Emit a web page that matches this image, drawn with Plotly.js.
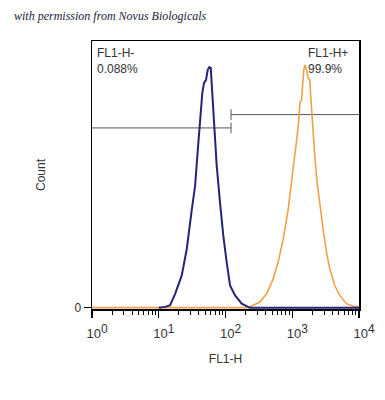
<!DOCTYPE html>
<html>
<head>
<meta charset="utf-8">
<script src="https://cdn.plot.ly/plotly-3.0.1.min.js"></script>
<style>
  html, body { margin: 0; padding: 0; background: #fff; }
  #chart { width: 385px; height: 400px; }
</style>
</head>
<body>
<div id="chart"></div>
<script>
// Negative control (blue) histogram: FL1-H intensity vs count
const blueX = [10, 12.5, 14.8, 17.6, 22.1, 26.3, 31.3, 35.0, 39.2, 41.6, 45.0, 47.7, 51.1, 54.2, 57.3, 60.1, 62.2, 65.8, 69.7, 73.9, 82.7, 92.7, 104, 117, 139, 175, 207, 232, 10000];
const blueY = [0, 0.3, 0.9, 5.2, 12.1, 22.0, 36.9, 45.6, 61.8, 69.4, 80.6, 84.3, 85.4, 89.2, 90.2, 89.9, 82.9, 71.8, 61.9, 53.1, 39.6, 27.0, 17.2, 8.3, 4.6, 1.5, 0.6, 0, 0];

// Stained sample (orange) histogram
const orangeX = [1, 217, 260, 328, 413, 518, 615, 731, 869, 977, 1094, 1183, 1268, 1300, 1377, 1425, 1490, 1543, 1636, 1729, 1833, 1878, 1943, 2053, 2177, 2357, 2587, 2897, 3258, 3648, 4335, 5143, 6482, 8130, 10000];
const orangeY = [0, 0, 0.9, 2.1, 5.2, 10.8, 17.1, 25.7, 36.9, 46.9, 55.6, 64.3, 71.8, 76.8, 78.0, 84.2, 89.2, 91.0, 89.2, 86.1, 85.4, 80.5, 74.3, 65.6, 56.8, 46.9, 38.2, 29.5, 20.8, 14.6, 8.3, 4.6, 1.5, 0.6, 0.2];

// Gates
const gateNames = ['FL1-H-', 'FL1-H+'];
const gateFrom = [1, 121];
const gateTo = [121, 10000];
const gateLevel = [67.4, 72.4];
const gatePercent = ['0.088%', '99.9%'];

// Axis ticks
const xTickVals = [1, 10, 100, 1000, 10000];
const xTickExp = ['0', '1', '2', '3', '4'];
const yTickVals = [0];
const yTickText = ['0'];

const FONT = 'Liberation Sans, Arial, sans-serif';
const TXT = '#333333';

const xTickText = xTickExp.map(e => '10<sup><span style="font-size:12px">' + e + '</span></sup>');

function gateTrace(i) {
  const tickEnd = i === 0 ? gateTo[i] : gateFrom[i];
  return {
    type: 'scatter', mode: 'lines',
    x: [gateFrom[i], gateTo[i], null, tickEnd, tickEnd],
    y: [gateLevel[i], gateLevel[i], null, gateLevel[i] - 2, gateLevel[i] + 2],
    line: { color: '#555555', width: 1 },
    hoverinfo: 'skip', showlegend: false
  };
}

const traces = [
  gateTrace(0), gateTrace(1),
  { type: 'scatter', mode: 'lines', x: orangeX, y: orangeY,
    line: { color: '#F2A148', width: 1.6 }, showlegend: false },
  { type: 'scatter', mode: 'lines', x: blueX, y: blueY,
    line: { color: '#24247A', width: 2 }, showlegend: false }
];

const layout = {
  width: 385, height: 400,
  margin: { l: 92, r: 26, t: 41, b: 91 },
  paper_bgcolor: '#ffffff', plot_bgcolor: '#ffffff',
  showlegend: false,
  font: { family: FONT, size: 12, color: TXT },
  xaxis: {
    type: 'log', range: [0, 4],
    tickmode: 'array', tickvals: xTickVals, ticktext: xTickText,
    ticks: 'outside', ticklen: 7, tickwidth: 1.2, tickcolor: '#000',
    ticklabelstandoff: 5, ticklabelshift: 5,
    minor: { dtick: 'D1', ticks: 'outside', ticklen: 4, tickcolor: '#000', tickwidth: 1, showgrid: false },
    showgrid: false, zeroline: false,
    showline: true, linecolor: '#000', linewidth: 1.5, mirror: true,
    tickfont: { family: FONT, size: 13, color: TXT },
    title: { text: 'FL1-H', font: { family: FONT, size: 12, color: TXT }, standoff: 14 }
  },
  yaxis: {
    range: [-0.5, 100],
    tickmode: 'array', tickvals: yTickVals, ticktext: yTickText,
    ticks: 'outside', ticklen: 7, tickcolor: '#000',
    showgrid: false, zeroline: false,
    showline: true, linecolor: '#000', linewidth: 1.5, mirror: true,
    tickfont: { family: FONT, size: 12, color: TXT },
    title: { text: 'Count', font: { family: FONT, size: 12, color: TXT }, standoff: 26 }
  },
  annotations: [
    { xref: 'paper', yref: 'paper', x: 0, y: 0.99, xanchor: 'left', yanchor: 'top',
      xshift: 3, align: 'left', showarrow: false,
      text: gateNames[0] + '<br>' + gatePercent[0],
      font: { family: FONT, size: 12, color: TXT } },
    { xref: 'paper', yref: 'paper', x: 1, y: 0.99, xanchor: 'right', yanchor: 'top',
      xshift: -9, align: 'left', showarrow: false,
      text: gateNames[1] + '<br>' + gatePercent[1],
      font: { family: FONT, size: 12, color: TXT } },
    { xref: 'paper', yref: 'paper', x: -0.3, y: 1.093, xanchor: 'left', yanchor: 'middle',
      showarrow: false, text: 'with permission from Novus Biologicals',
      font: { family: 'Liberation Serif, DejaVu Serif, serif', size: 12, color: '#1b1b3a', style: 'italic' } }
  ]
};

Plotly.newPlot('chart', traces, layout, { displayModeBar: false, staticPlot: true });
</script>
</body>
</html>
